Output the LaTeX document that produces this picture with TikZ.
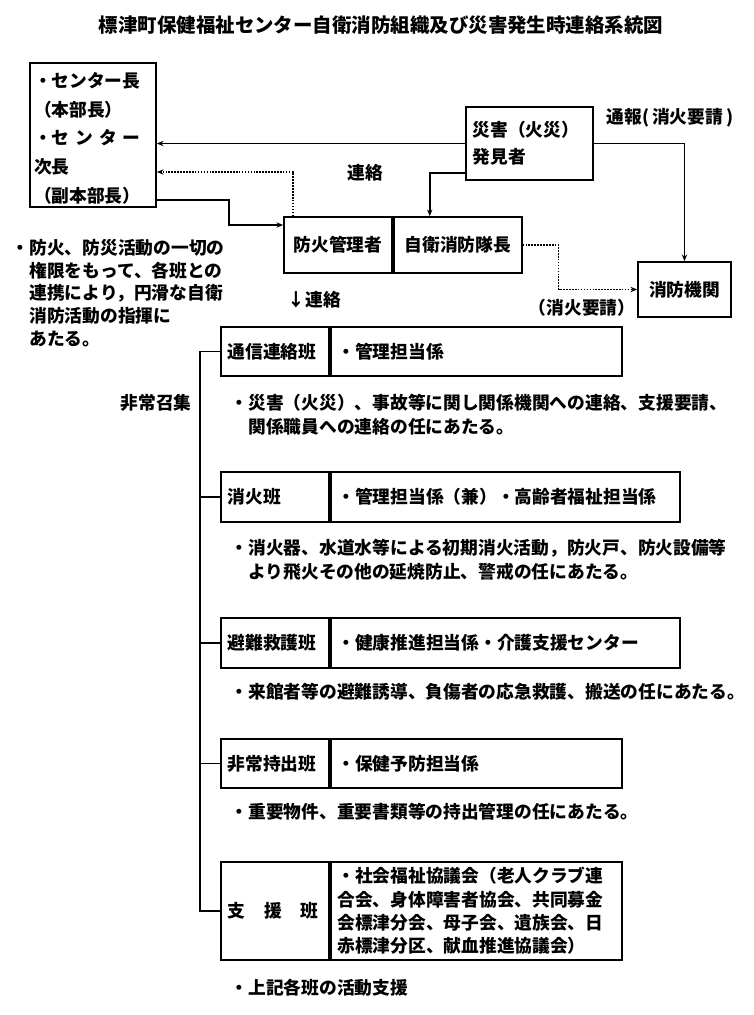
\documentclass[tikz,border=0pt]{standalone}
\usepackage{fontspec}
\setmainfont{Noto Sans CJK JP}
\usetikzlibrary{arrows.meta}

\begin{document}
\begin{tikzpicture}[x=0.75pt, y=-0.75pt, >={Stealth[length=5pt,width=4pt]},
  txt/.style={font=\fontsize{13.3}{18}\selectfont\bfseries},
  box/.style={draw, line width=1.3pt, txt, inner sep=0pt},
  cell/.style={box, minimum height=37pt, inner xsep=5pt, text width=71pt, align=left},
  duty/.style={box, minimum height=37pt, inner xsep=5pt, align=left, anchor=west},
  note/.style={txt, anchor=west, align=left},
  link/.style={line width=1.3pt},
  dotlink/.style={line width=1.2pt, densely dotted}]
  \useasboundingbox (0,0) rectangle (754,1015);

  % Title
  \node[font=\fontsize{14.6}{16}\selectfont\bfseries] (title) at (381,25)
    {標津町保健福祉センター自衛消防組織及び災害発生時連絡系統図};

  % Headquarters
  \node[box, minimum width=94.5pt, minimum height=108pt, inner xsep=3pt, text width=88.5pt,
        align=left, font=\fontsize{13.3}{21.5}\selectfont\bfseries] (chief) at (93,135)
    {\rule{0pt}{16pt}・センター長\\（本部長）\\\makebox[80pt][s]{・セ\hfill ン\hfill タ\hfill ー}\\次長\\（副本部長）};

  % Finder and fire station
  \node[box, minimum width=95.25pt, minimum height=54.75pt, inner xsep=5pt, text width=85.25pt,
        align=left, font=\fontsize{13.3}{20}\selectfont\bfseries] (finder) at (529.5,143.5)
    {災害（火災）\\発見者};
  \node[box, minimum width=69.75pt, minimum height=41.25pt] (fd) at (684.5,289.5) {消防機関};

  % Fire manager / brigade leader
  \node[box, minimum width=81pt, minimum height=42pt] (manager) at (338,245) {防火管理者};
  \node[box, minimum width=96pt, minimum height=42pt, anchor=west] (brigade) at (manager.east) {自衛消防隊長};

  % Connectors at the top
  \draw[link,->] (finder.west) -- (finder.west -| chief.east);
  \draw[link,->] (finder.east) -| (fd.north);
  \draw[link,->] ([yshift=6pt]finder.south west) -| ([xshift=-21pt]brigade.north);
  \draw[dotlink,->] ([xshift=7.5pt]manager.north west) |- ([yshift=-27.75pt]chief.east);
  \coordinate (elbow) at (229,225);
  \draw[link,->] ([yshift=6pt]chief.south east) -| (elbow) -- (elbow -| manager.west);
  \draw[dotlink,->] (brigade.east) -- ++(36,0) |- (fd.west);

  % Labels
  \node[txt, anchor=west] (report) at (602,118) {通報(\,消火要請\,)};
  \node[txt] (contact) at (365,173) {連絡};
  \node[txt] (request) at (582,308) {（消火要請）};
  \node[txt, anchor=west] (order) at (283,300) {↓連絡};
  \node[txt] (call) at (156,403) {非常召集};
  \node[note, font=\fontsize{13.3}{17}\selectfont\bfseries] (role) at (7,293)
    {・防火、防災活動の一切の\\\hspace*{1em}権限をもって、各班との\\\hspace*{1em}連携により，円滑な自衛\\\hspace*{1em}消防活動の指揮に\\\hspace*{1em}あたる。};

  % Teams
  \node[cell] (comm) at (275,351.5) {通信連絡班};
  \node[duty, text width=208.25pt] (commduty) at (comm.east) {・管理担当係};
  \node[cell] (fire) at (275,497) {消火班};
  \node[duty, text width=251.75pt] (fireduty) at (fire.east) {・管理担当係（兼）・高齢者福祉担当係};
  \node[cell] (rescue) at (275,643) {避難救護班};
  \node[duty, text width=251.75pt] (rescueduty) at (rescue.east) {・健康推進担当係・介護支援センター};
  \node[cell] (carry) at (275,763.5) {非常持出班};
  \node[duty, text width=208.25pt] (carryduty) at (carry.east) {・保健予防担当係};
  \node[cell, minimum height=73.5pt] (support) at (275,911)
    {\makebox[68pt][s]{支\hfill 援\hfill 班}};
  \node[duty, text width=208.25pt, minimum height=73.5pt, inner ysep=2pt,
        font=\fontsize{13.3}{17.5}\selectfont\bfseries] (supportduty) at (support.east)
    {・社会福祉協議会（老人クラブ連\\合会、身体障害者協会、共同募金\\会標津分会、母子会、遺族会、日\\赤標津分区、献血推進協議会）};

  % Bracket
  \draw[link] (comm.west) -- ++(-20,0) |- (support.west);
  \foreach \t in {fire, rescue, carry}
    \draw[link] (\t.west) -- ++(-20,0);

  % Team notes
  \node[note] (commnote) at (226,415)
    {・災害（火災）、事故等に関し関係機関への連絡、支援要請、\\\hspace*{1em}関係職員への連絡の任にあたる。};
  \node[note] (firenote) at (226,559.5)
    {・消火器、水道水等による初期消火活動，防火戸、防火設備等\\\hspace*{1em}より飛火その他の延焼防止、警戒の任にあたる。};
  \node[note] (rescuenote) at (226,692) {・来館者等の避難誘導、負傷者の応急救護、搬送の任にあたる。};
  \node[note] (carrynote) at (226,812) {・重要物件、重要書類等の持出管理の任にあたる。};
  \node[note] (supportnote) at (226,988) {・上記各班の活動支援};
\end{tikzpicture}
\end{document}
